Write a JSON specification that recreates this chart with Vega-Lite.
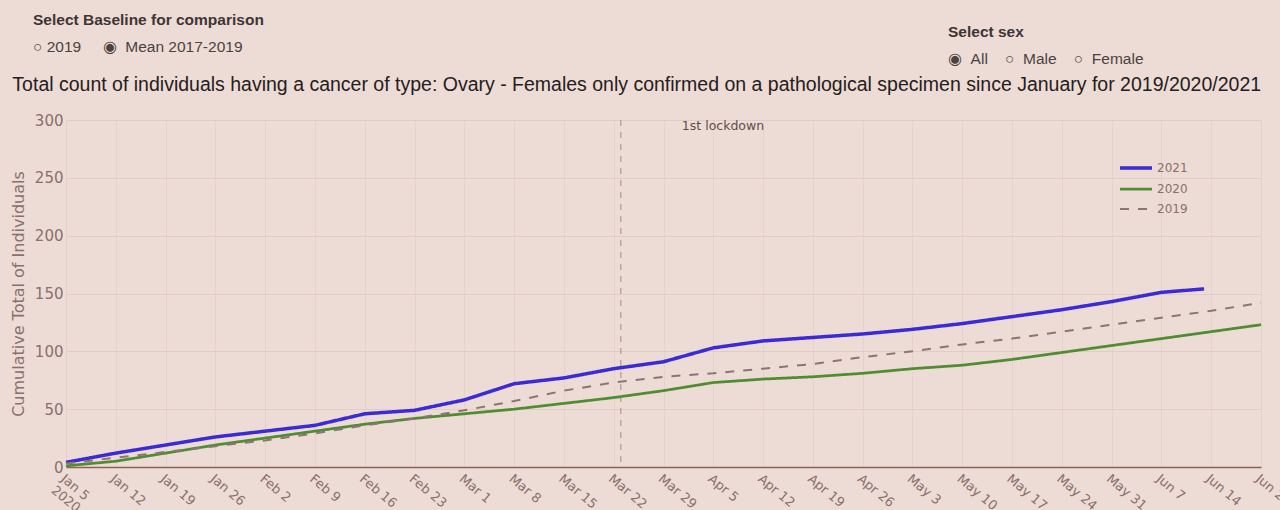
{
  "$schema": "https://vega.github.io/schema/vega-lite/v6.json",
  "background": "#eddcd5",
  "padding": {"left": 10, "top": 12, "right": 0, "bottom": 0},
  "spacing": 6,
  "title": {
    "text": "Select Baseline for comparison",
    "subtitle": "\u25cb 2019\u00a0\u00a0\u00a0\u00a0\u00a0\u25c9\u00a0\u00a0Mean 2017-2019",
    "anchor": "start",
    "frame": "group",
    "font": "Liberation Sans",
    "fontSize": 15.5,
    "fontWeight": "bold",
    "color": "#3d3535",
    "subtitleFont": "Liberation Sans",
    "subtitleFontSize": 15.5,
    "subtitleColor": "#4a4242",
    "subtitlePadding": 11.5,
    "dx": -33,
    "offset": -30.5
  },
  "datasets": {
    "counts": [
      {"date": "2020-01-05T00:00", "series": "2021", "value": 4},
      {"date": "2020-01-12T00:00", "series": "2021", "value": 12},
      {"date": "2020-01-19T00:00", "series": "2021", "value": 19},
      {"date": "2020-01-26T00:00", "series": "2021", "value": 26},
      {"date": "2020-02-02T00:00", "series": "2021", "value": 31},
      {"date": "2020-02-09T00:00", "series": "2021", "value": 36},
      {"date": "2020-02-16T00:00", "series": "2021", "value": 46},
      {"date": "2020-02-23T00:00", "series": "2021", "value": 49},
      {"date": "2020-03-01T00:00", "series": "2021", "value": 58},
      {"date": "2020-03-08T00:00", "series": "2021", "value": 72},
      {"date": "2020-03-15T00:00", "series": "2021", "value": 77},
      {"date": "2020-03-22T00:00", "series": "2021", "value": 85},
      {"date": "2020-03-29T00:00", "series": "2021", "value": 91},
      {"date": "2020-04-05T00:00", "series": "2021", "value": 103},
      {"date": "2020-04-12T00:00", "series": "2021", "value": 109},
      {"date": "2020-04-19T00:00", "series": "2021", "value": 112},
      {"date": "2020-04-26T00:00", "series": "2021", "value": 115},
      {"date": "2020-05-03T00:00", "series": "2021", "value": 119},
      {"date": "2020-05-10T00:00", "series": "2021", "value": 124},
      {"date": "2020-05-17T00:00", "series": "2021", "value": 130},
      {"date": "2020-05-24T00:00", "series": "2021", "value": 136},
      {"date": "2020-05-31T00:00", "series": "2021", "value": 143},
      {"date": "2020-06-07T00:00", "series": "2021", "value": 151},
      {"date": "2020-06-13T00:00", "series": "2021", "value": 154},
      {"date": "2020-01-05T00:00", "series": "2020", "value": 1},
      {"date": "2020-01-12T00:00", "series": "2020", "value": 5},
      {"date": "2020-01-19T00:00", "series": "2020", "value": 12},
      {"date": "2020-01-26T00:00", "series": "2020", "value": 19},
      {"date": "2020-02-02T00:00", "series": "2020", "value": 25},
      {"date": "2020-02-09T00:00", "series": "2020", "value": 31},
      {"date": "2020-02-16T00:00", "series": "2020", "value": 37},
      {"date": "2020-02-23T00:00", "series": "2020", "value": 42},
      {"date": "2020-03-01T00:00", "series": "2020", "value": 46},
      {"date": "2020-03-08T00:00", "series": "2020", "value": 50},
      {"date": "2020-03-15T00:00", "series": "2020", "value": 55},
      {"date": "2020-03-22T00:00", "series": "2020", "value": 60},
      {"date": "2020-03-29T00:00", "series": "2020", "value": 66},
      {"date": "2020-04-05T00:00", "series": "2020", "value": 73},
      {"date": "2020-04-12T00:00", "series": "2020", "value": 76},
      {"date": "2020-04-19T00:00", "series": "2020", "value": 78},
      {"date": "2020-04-26T00:00", "series": "2020", "value": 81},
      {"date": "2020-05-03T00:00", "series": "2020", "value": 85},
      {"date": "2020-05-10T00:00", "series": "2020", "value": 88},
      {"date": "2020-05-17T00:00", "series": "2020", "value": 93},
      {"date": "2020-05-24T00:00", "series": "2020", "value": 99},
      {"date": "2020-05-31T00:00", "series": "2020", "value": 105},
      {"date": "2020-06-07T00:00", "series": "2020", "value": 111},
      {"date": "2020-06-14T00:00", "series": "2020", "value": 117},
      {"date": "2020-06-21T00:00", "series": "2020", "value": 123},
      {"date": "2020-01-05T00:00", "series": "2019", "value": 3},
      {"date": "2020-01-12T00:00", "series": "2019", "value": 8},
      {"date": "2020-01-19T00:00", "series": "2019", "value": 13},
      {"date": "2020-01-26T00:00", "series": "2019", "value": 18},
      {"date": "2020-02-02T00:00", "series": "2019", "value": 23},
      {"date": "2020-02-09T00:00", "series": "2019", "value": 29},
      {"date": "2020-02-16T00:00", "series": "2019", "value": 36},
      {"date": "2020-02-23T00:00", "series": "2019", "value": 42},
      {"date": "2020-03-01T00:00", "series": "2019", "value": 49},
      {"date": "2020-03-08T00:00", "series": "2019", "value": 57},
      {"date": "2020-03-15T00:00", "series": "2019", "value": 66},
      {"date": "2020-03-22T00:00", "series": "2019", "value": 73},
      {"date": "2020-03-29T00:00", "series": "2019", "value": 78},
      {"date": "2020-04-05T00:00", "series": "2019", "value": 81},
      {"date": "2020-04-12T00:00", "series": "2019", "value": 85},
      {"date": "2020-04-19T00:00", "series": "2019", "value": 89},
      {"date": "2020-04-26T00:00", "series": "2019", "value": 95},
      {"date": "2020-05-03T00:00", "series": "2019", "value": 100},
      {"date": "2020-05-10T00:00", "series": "2019", "value": 106},
      {"date": "2020-05-17T00:00", "series": "2019", "value": 111},
      {"date": "2020-05-24T00:00", "series": "2019", "value": 117},
      {"date": "2020-05-31T00:00", "series": "2019", "value": 123},
      {"date": "2020-06-07T00:00", "series": "2019", "value": 129},
      {"date": "2020-06-14T00:00", "series": "2019", "value": 135},
      {"date": "2020-06-21T00:00", "series": "2019", "value": 142}
    ],
    "events": [
      {"date": "2020-03-23T00:00", "label": "1st lockdown"}
    ]
  },
  "vconcat": [
    {
      "width": 1195,
      "height": 1,
      "data": {"values": []},
      "mark": "text",
      "encoding": {},
      "title": {
        "text": "Select sex",
        "subtitle": "\u25c9\u00a0\u00a0All\u00a0\u00a0\u00a0\u00a0\u25cb\u00a0\u00a0Male\u00a0\u00a0\u00a0\u00a0\u25cb\u00a0\u00a0Female",
        "anchor": "start",
        "frame": "group",
        "font": "Liberation Sans",
        "fontSize": 15.5,
        "fontWeight": "bold",
        "color": "#3d3535",
        "subtitleFont": "Liberation Sans",
        "subtitleFontSize": 15.5,
        "subtitleColor": "#4a4242",
        "subtitlePadding": 11.5,
        "dx": 882,
        "offset": 0
      }
    },
    {
      "width": 1195,
      "height": 347,
      "title": {
        "text": "Total count of individuals having a cancer of type: Ovary - Females only confirmed on a pathological specimen since January for 2019/2020/2021",
        "anchor": "start",
        "frame": "bounds",
        "font": "Liberation Sans",
        "fontSize": 19.5,
        "fontWeight": "normal",
        "color": "#242020",
        "dx": 2,
        "offset": 18
      },
      "layer": [
        {
          "data": {"name": "events"},
          "mark": {"type": "rule", "strokeDash": [6, 6], "color": "#a08c8a", "strokeWidth": 1},
          "encoding": {
            "x": {"field": "date", "type": "temporal"}
          }
        },
        {
          "data": {"name": "events"},
          "mark": {"type": "text", "align": "left", "baseline": "top", "dx": 61, "dy": 0, "font": "DejaVu Sans", "fontSize": 12.5, "color": "#5e4c4c"},
          "encoding": {
            "x": {"field": "date", "type": "temporal"},
            "y": {"datum": 300, "type": "quantitative"},
            "text": {"field": "label"}
          }
        },
        {
          "data": {"name": "counts"},
          "mark": {"type": "line"},
          "encoding": {
            "x": {
              "field": "date",
              "type": "temporal",
              "scale": {"domain": ["2020-01-05T00:00", "2020-06-21T00:00"]},
              "axis": {
                "title": null,
                "tickCount": {"interval": "week", "step": 1},
                "labelExpr": "datum.index == 0 ? [timeFormat(datum.value, '%b %-d'), '2020'] : timeFormat(datum.value, '%b %-d')",
                "labelAngle": 40,
                "labelAlign": "left",
                "labelBaseline": "top",
                "labelFont": "DejaVu Sans",
                "labelFontSize": 13,
                "labelColor": "#8a6f6c",
                "labelOverlap": false,
                "labelBound": false,
                "labelFlush": false,
                "labelPadding": 5,
                "ticks": false,
                "domainColor": "#8f5f58",
                "domainWidth": 1.5,
                "grid": true,
                "gridColor": "#d8c0ba",
                "gridOpacity": 0.35
              }
            },
            "y": {
              "field": "value",
              "type": "quantitative",
              "scale": {"domain": [0, 300]},
              "axis": {
                "title": "Cumulative Total of Individuals",
                "titleFont": "DejaVu Sans",
                "titleFontSize": 16,
                "titleFontWeight": "normal",
                "titleColor": "#8a6f6c",
                "titlePadding": 8,
                "values": [0, 50, 100, 150, 200, 250, 300],
                "labelFont": "DejaVu Sans",
                "labelFontSize": 15,
                "labelColor": "#8a6f6c",
                "labelPadding": 3,
                "domain": false,
                "ticks": false,
                "grid": true,
                "gridColor": "#d8c0ba",
                "gridOpacity": 0.55
              }
            },
            "color": {
              "field": "series",
              "type": "nominal",
              "scale": {"domain": ["2021", "2020", "2019"], "range": ["#3b2bd6", "#4f8c32", "#8c7474"]},
              "legend": {
                "title": null,
                "orient": "none",
                "legendX": 1058,
                "legendY": 89,
                "symbolType": "M-1.6,0H1.6",
                "symbolSize": 400,
                "labelFont": "DejaVu Sans",
                "labelFontSize": 12,
                "labelColor": "#8a6f6c",
                "labelOffset": 9,
                "rowPadding": 2.5
              }
            },
            "strokeDash": {
              "field": "series",
              "type": "nominal",
              "scale": {"domain": ["2021", "2020", "2019"], "range": [[1, 0], [1, 0], [9, 9]]}
            },
            "strokeWidth": {
              "field": "series",
              "type": "nominal",
              "scale": {"domain": ["2021", "2020", "2019"], "range": [3.5, 2, 2]}
            }
          }
        }
      ]
    }
  ],
  "config": {
    "view": {"stroke": null}
  }
}
